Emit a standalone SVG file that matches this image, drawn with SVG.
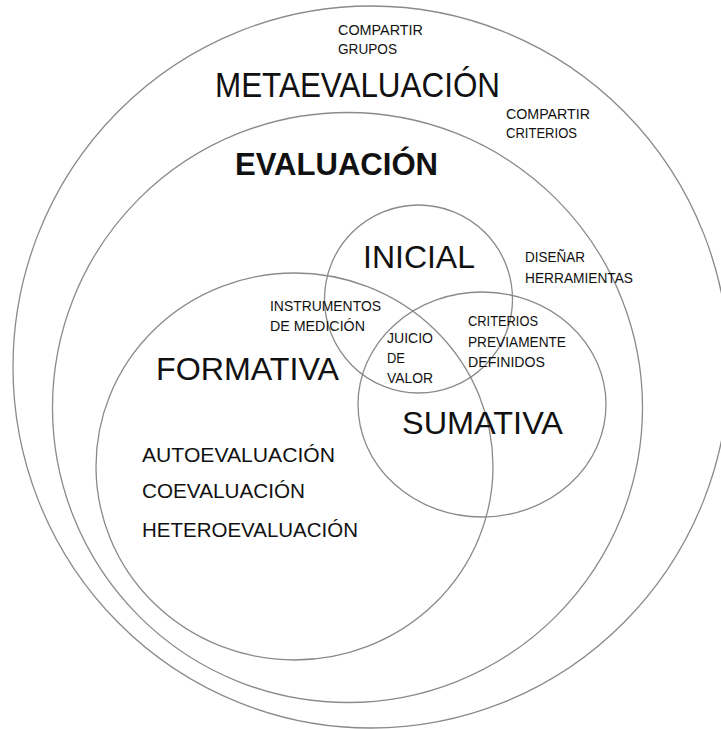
<svg xmlns="http://www.w3.org/2000/svg" width="721" height="729" viewBox="0 0 721 729">
<style>
.ring{fill:none;stroke:#8a8a8a;stroke-width:1.3}
text{font-family:"Liberation Sans",Arial,sans-serif;fill:#111}
.s{font-size:14px}
.m{font-size:20px}
.l{font-size:32px}
.b{font-size:31px;font-weight:bold}
</style>
<rect width="721" height="729" fill="#fff"/>
<g id="metaevaluacion">
<ellipse class="ring" cx="371" cy="367" rx="358" ry="361"/>
<text x="215" y="97" font-size="35" textLength="285" lengthAdjust="spacingAndGlyphs">METAEVALUACIÓN</text>
<text class="s" x="338" y="35" textLength="85" lengthAdjust="spacingAndGlyphs">COMPARTIR</text>
<text class="s" x="338" y="54" textLength="59" lengthAdjust="spacingAndGlyphs">GRUPOS</text>
<text class="s" x="506" y="119" textLength="84" lengthAdjust="spacingAndGlyphs">COMPARTIR</text>
<text class="s" x="506" y="138" textLength="71" lengthAdjust="spacingAndGlyphs">CRITERIOS</text>
</g>
<g id="evaluacion">
<circle class="ring" cx="347.5" cy="407.5" r="295"/>
<text class="b" x="235" y="175" textLength="203" lengthAdjust="spacingAndGlyphs">EVALUACIÓN</text>
<text class="s" x="525" y="262" textLength="60" lengthAdjust="spacingAndGlyphs">DISEÑAR</text>
<text class="s" x="525" y="283" textLength="108" lengthAdjust="spacingAndGlyphs">HERRAMIENTAS</text>
</g>
<g id="formativa">
<ellipse class="ring" cx="294.5" cy="466.5" rx="198.5" ry="193.5"/>
<text class="l" x="156" y="380" textLength="183" lengthAdjust="spacingAndGlyphs">FORMATIVA</text>
<text class="m" x="142" y="462" textLength="193" lengthAdjust="spacingAndGlyphs">AUTOEVALUACIÓN</text>
<text class="m" x="142" y="498" textLength="163" lengthAdjust="spacingAndGlyphs">COEVALUACIÓN</text>
<text class="m" x="142" y="537" textLength="216" lengthAdjust="spacingAndGlyphs">HETEROEVALUACIÓN</text>
</g>
<g id="sumativa">
<ellipse class="ring" cx="482" cy="404.5" rx="124" ry="112.5"/>
<text class="l" x="402" y="434" textLength="161" lengthAdjust="spacingAndGlyphs">SUMATIVA</text>
</g>
<g id="inicial">
<circle class="ring" cx="418.5" cy="299" r="94"/>
<text class="l" x="363" y="268" textLength="112" lengthAdjust="spacingAndGlyphs">INICIAL</text>
</g>
<g id="intersecciones">
<text class="s" x="270" y="311" textLength="111" lengthAdjust="spacingAndGlyphs">INSTRUMENTOS</text>
<text class="s" x="270" y="331" textLength="95" lengthAdjust="spacingAndGlyphs">DE MEDICIÓN</text>
<text class="s" x="387" y="343" textLength="46" lengthAdjust="spacingAndGlyphs">JUICIO</text>
<text class="s" x="387" y="363" textLength="18" lengthAdjust="spacingAndGlyphs">DE</text>
<text class="s" x="387" y="383" textLength="46" lengthAdjust="spacingAndGlyphs">VALOR</text>
<text class="s" x="468" y="326" textLength="70" lengthAdjust="spacingAndGlyphs">CRITERIOS</text>
<text class="s" x="468" y="347" textLength="98" lengthAdjust="spacingAndGlyphs">PREVIAMENTE</text>
<text class="s" x="468" y="367" textLength="77" lengthAdjust="spacingAndGlyphs">DEFINIDOS</text>
</g>
</svg>
